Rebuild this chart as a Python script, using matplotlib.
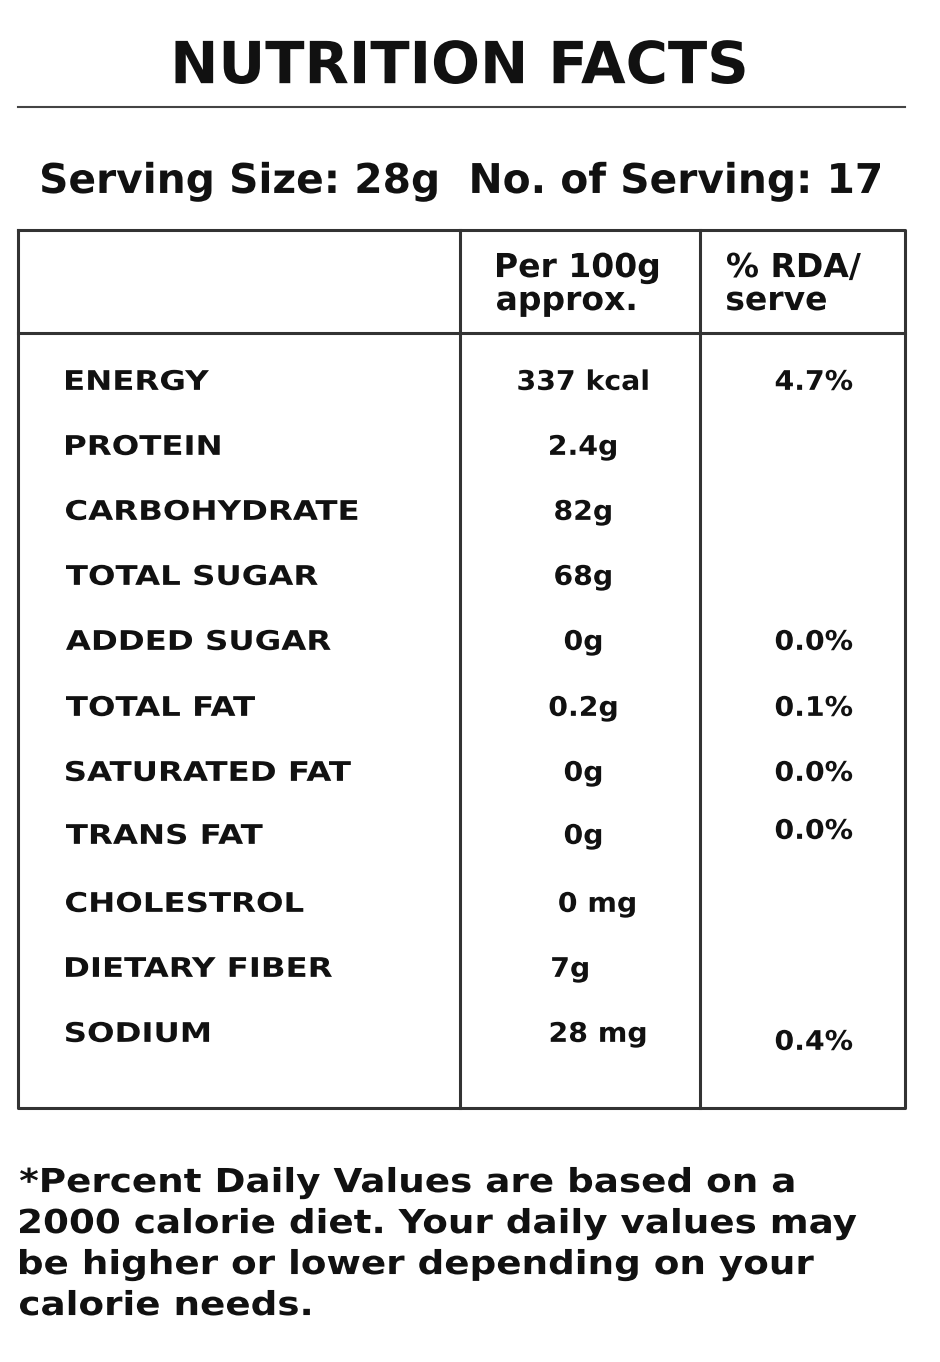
import matplotlib
matplotlib.use("Agg")
import matplotlib.pyplot as plt
from matplotlib.textpath import TextPath
from matplotlib.patches import PathPatch
from matplotlib.font_manager import FontProperties
from matplotlib.transforms import Affine2D

title = "NUTRITION FACTS"
serving = "Serving Size: 28g  No. of Serving: 17"
col_heads = ["Per 100g\napprox.", "% RDA/\nserve"]
nutrients = ["ENERGY", "PROTEIN", "CARBOHYDRATE", "TOTAL SUGAR", "ADDED SUGAR",
             "TOTAL FAT", "SATURATED FAT", "TRANS FAT", "CHOLESTROL",
             "DIETARY FIBER", "SODIUM"]
per100g = ["337 kcal", "2.4g", "82g", "68g", "0g", "0.2g", "0g", "0g",
           "0 mg", "7g", "28 mg"]
rda = ["4.7%", "", "", "", "0.0%", "0.1%", "0.0%", "0.0%", "", "", "0.4%"]
footnote = ["*Percent Daily Values are based on a",
            "2000 calorie diet. Your daily values may",
            "be higher or lower depending on your",
            "calorie needs."]

fig = plt.figure(figsize=(9.4, 13.62), dpi=100)
ax = fig.add_axes([0, 0, 1, 1])
ax.set_xlim(0, 940)
ax.set_ylim(1362, 0)
ax.axis("off")
ink = "#111111"
fp = FontProperties(family="DejaVu Sans", weight="bold")


def stext(x, y, s, size, sx=1.0, ha="left", width=None):
    # text drawn as a path so it can be stretched sideways; size in pixels
    tp = TextPath((0, 0), s, size=size, prop=fp)
    ext = tp.get_extents()
    if width is not None:
        sx = width / ext.width
    w = ext.width * sx
    x0 = x - ext.x0 * sx
    if ha == "center":
        x0 -= w / 2
    base = y + 0.73 * size / 2
    tr = Affine2D().scale(sx, -1).translate(x0, base)
    ax.add_patch(PathPatch(tr.transform_path(tp), color=ink, lw=0))


stext(460, 62, title, 58, ha="center", width=569)
ax.plot([18, 905], [107, 107], color="#444444", lw=1.5)
stext(461, 178, serving, 41, ha="center", width=838)

# table frame
lw = 2.2
ax.plot([18, 905, 905, 18, 18], [230, 230, 1108, 1108, 230], color="#333333", lw=lw)
ax.plot([18, 905], [333, 333], color="#333333", lw=lw)
for x in (460, 700):
    ax.plot([x, x], [230, 1108], color="#333333", lw=lw)

for hx, head in zip((497, 727), col_heads):
    for j, part in enumerate(head.split("\n")):
        stext(hx, 265 + j * 33, part, 33)

row_y = [380, 445, 510, 575, 640, 706, 771, 834, 902, 967, 1032]
rda_y = [380, 445, 510, 575, 640, 706, 771, 829, 902, 967, 1040]
val_x = [583, 583, 583, 583, 583, 583, 583, 583, 597, 570, 598]
for i, name in enumerate(nutrients):
    stext(66, row_y[i], name, 27, sx=1.2)
    stext(val_x[i], row_y[i], per100g[i], 27, sx=1.05, ha="center")
    if rda[i]:
        stext(814, rda_y[i], rda[i], 27, sx=1.05, ha="center")

for i, line in enumerate(footnote):
    stext(20, 1180 + i * 41, line, 33, sx=1.13)

fig.savefig("out.png", dpi=100, facecolor="white")
